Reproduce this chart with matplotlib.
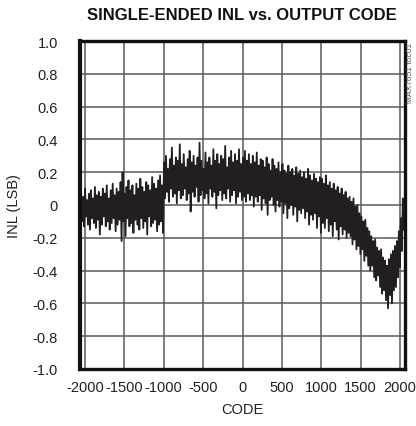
import numpy as np
import matplotlib
matplotlib.use('Agg')
import matplotlib.pyplot as plt

# INL values (LSB), left to right, evenly spaced in code
# code -2048 .. -1010
inl_a = [0.08, -0.10, 0.05, -0.13, 0.10, -0.07, 0.03, -0.12, 0.07, -0.15,
         0.09, -0.08, 0.04, -0.11, 0.11, -0.14, 0.06, -0.09, 0.08, -0.18,
         0.05, -0.12, 0.10, -0.07, 0.07, -0.13, 0.12, -0.10, 0.04, -0.15,
         0.09, -0.11, 0.13, -0.08, 0.06, -0.16, 0.10, -0.12, 0.08, -0.09,
         0.14, -0.22, 0.20, -0.10, 0.07, -0.19, 0.11, -0.08, 0.15, -0.13,
         0.09, -0.11, 0.12, -0.17, 0.06, -0.09, 0.13, -0.12, 0.10, -0.15,
         0.16, -0.08, 0.11, -0.14, 0.08, -0.10, 0.14, -0.18, 0.12, -0.07,
         0.09, -0.13, 0.17, -0.11, 0.13, -0.09, 0.10, -0.16, 0.15, -0.12,
         0.18, -0.10, 0.12, -0.17]
# code -1000 .. 0
inl_b = [0.26, 0.04, 0.30, 0.08, 0.22, 0.02, 0.28, 0.10, 0.35, 0.05,
         0.24, 0.07, 0.29, 0.01, 0.27, 0.09, 0.37, 0.04, 0.25, 0.06,
         0.31, 0.10, 0.23, 0.03, 0.28, 0.07, 0.33, -0.04, 0.26, 0.08,
         0.30, 0.05, 0.24, 0.11, 0.29, 0.02, 0.38, 0.06, 0.27, 0.09,
         0.22, 0.04, 0.32, 0.07, 0.26, 0.01, 0.29, 0.10, 0.24, 0.05,
         0.34, 0.08, 0.27, -0.02, 0.31, 0.06, 0.25, 0.09, 0.30, 0.03,
         0.28, 0.07, 0.36, 0.04, 0.23, 0.10, 0.29, 0.02, 0.33, 0.06,
         0.26, 0.09, 0.31, 0.01, 0.27, 0.05, 0.34, 0.08, 0.25, 0.03]
# code 0 .. 1000
inl_c = [0.29, 0.05, 0.33, 0.02, 0.27, 0.07, 0.31, 0.03, 0.25, 0.06,
         0.30, -0.01, 0.26, 0.05, 0.32, 0.02, 0.24, 0.06, 0.28, -0.03,
         0.27, 0.04, 0.23, 0.01, 0.29, -0.06, 0.25, 0.03, 0.21, 0.05,
         0.28, 0.00, 0.24, -0.04, 0.22, 0.03, 0.26, -0.01, 0.20, 0.02,
         0.25, -0.05, 0.21, 0.01, 0.19, -0.08, 0.24, -0.02, 0.20, 0.00,
         0.22, -0.06, 0.18, -0.01, 0.23, -0.10, 0.19, -0.03, 0.21, -0.05,
         0.17, -0.02, 0.20, -0.08, 0.16, -0.04, 0.22, -0.12, 0.18, -0.06,
         0.15, -0.09, 0.19, -0.05, 0.16, -0.14, 0.14, -0.07, 0.17, -0.17]
# code 1000 .. 1350
inl_d = [0.16, -0.11, 0.13, -0.14, 0.18, -0.08, 0.12, -0.16, 0.14, -0.12,
         0.10, -0.19, 0.13, -0.10, 0.09, -0.15, 0.11, -0.21, 0.07, -0.13,
         0.10, -0.18, 0.06, -0.15, 0.08, -0.20, 0.04, -0.17]
# code 1350 .. 1800
inl_e = [0.05, -0.19, 0.02, -0.24, 0.04, -0.21, -0.01, -0.27, 0.00, -0.25,
         -0.05, -0.30, -0.07, -0.27, -0.10, -0.34, -0.09, -0.31, -0.14, -0.37,
         -0.16, -0.40, -0.19, -0.37, -0.22, -0.44, -0.21, -0.46, -0.26, -0.43,
         -0.28, -0.50, -0.27, -0.54, -0.32, -0.52]
# code 1800 .. 2047
inl_f = [-0.34, -0.58, -0.37, -0.63, -0.33, -0.55, -0.30, -0.60, -0.28, -0.52,
         -0.25, -0.50, -0.22, -0.44, -0.16, -0.38, -0.08, -0.28, 0.04, -0.15]

inl = inl_a + inl_b + inl_c + inl_d + inl_e + inl_f
code = np.linspace(-2048, 2047, len(inl))

xticks = [-2000, -1500, -1000, -500, 0, 500, 1000, 1500, 2000]
yticks = [-1.0, -0.8, -0.6, -0.4, -0.2, 0, 0.2, 0.4, 0.6, 0.8, 1.0]
ylabels = ['-1.0', '-0.8', '-0.6', '-0.4', '-0.2', '0', '0.2', '0.4', '0.6', '0.8', '1.0']

plt.rcParams['font.family'] = ['Liberation Sans', 'DejaVu Sans']

fig = plt.figure(figsize=(4.16, 4.27), dpi=100)
ax = fig.add_axes([80/416, 57/427, 325/416, 328/427])

ink = '#231f20'
ax.plot(code, inl, color=ink, lw=1.3)

ax.set_xlim(-2062, 2062)
ax.set_ylim(-1.0, 1.0)
ax.set_xticks(xticks)
ax.set_xticklabels([str(t) for t in xticks])
ax.set_yticks(yticks)
ax.set_yticklabels(ylabels)
ax.tick_params(length=0, labelsize=10.5, colors=ink)
ax.tick_params(axis='y', pad=16)
ax.tick_params(axis='x', pad=8)
ax.grid(True, color='#595959', lw=1.1)
ax.set_axisbelow(True)
for s in ax.spines.values():
    s.set_linewidth(2.4)
    s.set_color('#111111')
ax.spines['left'].set_linewidth(3.0)

ax.set_xlabel('CODE', fontsize=10.5, labelpad=6, color=ink)
ax.set_ylabel('INL (LSB)', fontsize=10.5, labelpad=8, color=ink)
fig.text(242/416, 1 - 15/427, 'SINGLE-ENDED INL vs. OUTPUT CODE', ha='center', va='center',
         fontsize=12, fontweight='bold', color='#111111')
fig.text(411/416, 1 - 43/427, 'MAX7651 toc01', rotation=90, ha='center', va='top',
         fontsize=6, color='#555555')

fig.savefig('out.png', dpi=100)
